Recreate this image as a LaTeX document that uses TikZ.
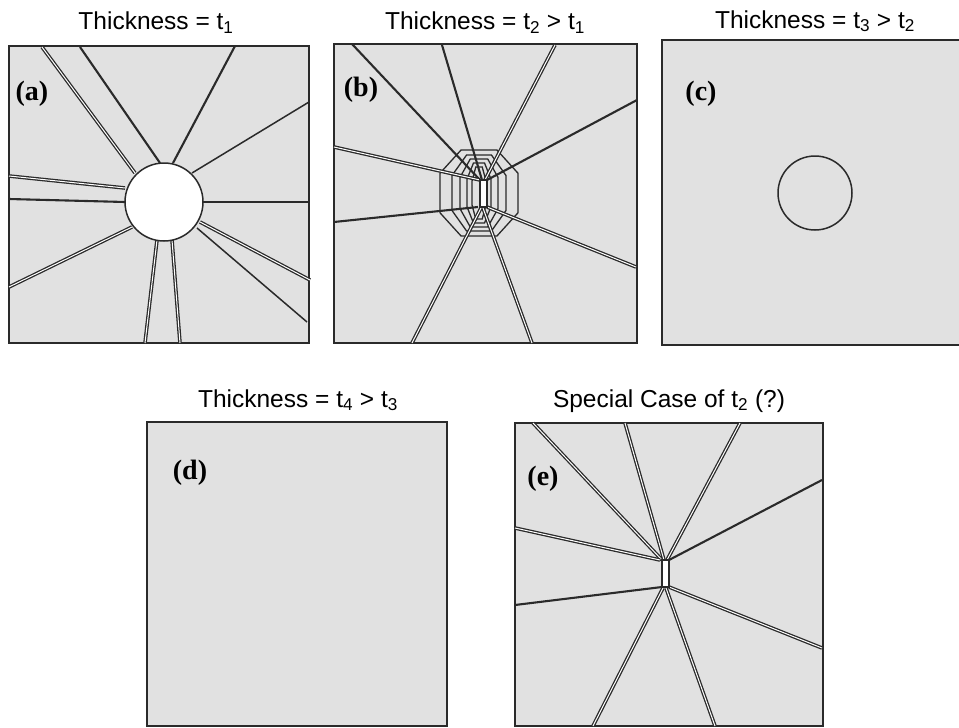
\documentclass[tikz,border=0pt]{standalone}
\usepackage{fontspec}
\setmainfont{Liberation Serif}
\setsansfont{Liberation Sans}
\usepackage{tikz}
\definecolor{plategray}{HTML}{E1E1E1}
\definecolor{edgegray}{HTML}{2A2A2A}
\tikzset{
  plate/.style={fill=plategray,draw=edgegray,line width=1.6pt},
  crack/.style={draw=edgegray,line width=2.1pt},
  thincrack/.style={draw=edgegray,line width=1.5pt},
  gap/.style={draw=edgegray,line width=1.3pt,double=white,double distance=1pt},
  ring/.style={draw=edgegray,line width=1.3pt},
  tag/.style={font=\bfseries\fontsize{28}{28}\selectfont},
  heading/.style={font=\sffamily\fontsize{24.5}{24.5}\selectfont,anchor=base},
}

\begin{document}
\begin{tikzpicture}[x=1pt,y=-1pt]
  \useasboundingbox (0,0) rectangle (959,728);
  \fill[white] (0,0) rectangle (959,728);
  \clip (0,0) rectangle (959,728);

  % (a)
  \node [heading] (ta) at (156,30) {Thickness = t\textsubscript{1}};
  \draw[plate] (9,46) rectangle (309,343);
  \draw[gap] (42,47) -- (135,173);
  \draw[crack] (80,47) -- (160,163);
  \draw[crack] (235,46) -- (173,163);
  \draw[thincrack] (309,102) -- (192,173);
  \draw[crack] (309,202) -- (203,202);
  \draw[gap] (310,280) -- (200,222);
  \draw[thincrack] (307,322) -- (197,228);
  \draw[gap] (157,240) -- (145,343);
  \draw[gap] (172,240) -- (180,343);
  \draw[gap] (9,287) -- (132,227);
  \draw[crack] (9,199) -- (125,202);
  \draw[gap] (9,176) -- (125,188);
  \draw[thincrack,fill=white] (164,202) circle (39);
  \node [tag] (la) at (32,94) {(a)};

  % (b)
  \node [heading] (tb) at (485,30) {Thickness = t\textsubscript{2} > t\textsubscript{1}};
  \draw[plate] (334,44) rectangle (637,343);
  \foreach \w/\h in {39/43,27/38,19/34,12/30,7/26}
    \draw[ring] (479-\w,193-0.46*\h) -- (479-0.46*\w,193-\h) -- (479+0.46*\w,193-\h)
      -- (479+\w,193-0.46*\h) -- (479+\w,193+0.46*\h) -- (479+0.46*\w,193+\h)
      -- (479-0.46*\w,193+\h) -- (479-\w,193+0.46*\h) -- cycle;
  \draw[crack] (352,44) -- (480,180);
  \draw[crack] (442,45) -- (482,180);
  \draw[gap] (555,45) -- (485,180);
  \draw[crack] (637,100) -- (487,180);
  \draw[gap] (636,267) -- (487,207);
  \draw[gap] (532,343) -- (483,208);
  \draw[gap] (412,343) -- (481,208);
  \draw[crack] (334,222) -- (478,207);
  \draw[gap] (334,147) -- (480,180);
  \draw[ring,fill=white] (480,180) rectangle (487,207);
  \node [tag] (lb) at (361,90) {(b)};

  % (c)
  \node [heading] (tc) at (815,28) {Thickness = t\textsubscript{3} > t\textsubscript{2}};
  \draw[plate] (662,40) rectangle (975,345);
  \draw[thincrack] (815,193) circle (37);
  \node [tag] (lc) at (701,94) {(c)};

  % (d)
  \node [heading] (td) at (298,407) {Thickness = t\textsubscript{4} > t\textsubscript{3}};
  \draw[plate] (147,422) rectangle (447,726);
  \node [tag] (ld) at (190,473) {(d)};

  % (e)
  \node [heading] (te) at (669,407) {Special Case of t\textsubscript{2} (?)};
  \draw[plate] (515,423) rectangle (823,726);
  \draw[gap] (533,423) -- (662,560);
  \draw[gap] (625,423) -- (664,560);
  \draw[gap] (740,423) -- (667,560);
  \draw[crack] (822,480) -- (669,560);
  \draw[gap] (822,648) -- (669,587);
  \draw[gap] (715,726) -- (666,588);
  \draw[gap] (593,726) -- (663,588);
  \draw[crack] (515,605) -- (662,587);
  \draw[gap] (515,528) -- (660,560);
  \draw[ring,fill=white] (662,560) rectangle (669,587);
  \node [tag] (le) at (543,479) {(e)};
\end{tikzpicture}
\end{document}
